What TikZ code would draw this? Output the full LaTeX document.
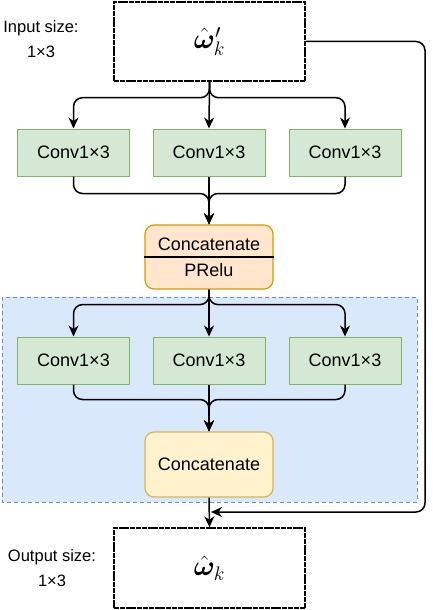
\documentclass[tikz,border=0pt]{standalone}
\usepackage{fix-cm}
\usepackage{amsmath}
\usepackage{bm}
\usepackage{fontspec}
\setmainfont{Liberation Sans}
\usetikzlibrary{arrows.meta}
\definecolor{gfill}{HTML}{D5E8D4}\definecolor{gline}{HTML}{82B366}
\definecolor{ofill}{HTML}{FFE6CC}\definecolor{oline}{HTML}{D79B00}
\definecolor{yfill}{HTML}{FFF2CC}\definecolor{yline}{HTML}{D6B656}
\definecolor{bfill}{HTML}{DAE8FC}\definecolor{bline}{HTML}{6C8EBF}
\tikzset{
  convbox/.style={draw=gline,fill=gfill,line width=1pt,minimum width=112pt,minimum height=47pt,inner sep=0pt,font=\fontsize{18}{20}\selectfont},
  vecbox/.style={draw=black,line width=1.4pt,dash pattern=on 5pt off 0.8pt,fill=white,minimum width=191pt,minimum height=79pt,inner sep=0pt,font=\fontsize{28}{30}\selectfont},
  catbox/.style={rounded corners=9pt,line width=1.2pt,minimum width=128pt,minimum height=64pt,inner sep=0pt,font=\fontsize{18}{20}\selectfont},
  lbl/.style={align=center,font=\fontsize{16.5}{25}\selectfont,inner sep=0pt},
  arr/.style={line width=1.5pt,rounded corners=9pt,-{Stealth[length=11pt,width=10pt,inset=3.5pt]}},
}
\begin{document}
\begin{tikzpicture}[x=1pt,y=-1pt]
\useasboundingbox (0,0) rectangle (432,610);
\fill[white] (0,0) rectangle (432,610);
% blue region
\draw[draw=bline,fill=bfill,line width=1pt,dash pattern=on 4pt off 3pt] (2,297) rectangle (417,502);
% nodes
\node[vecbox] (in) at (209.5,41.5) {$\hat{\bm{\omega}}'_k$};
\node[vecbox,minimum height=80pt] (out) at (209.5,568) {$\hat{\bm{\omega}}_k$};
\node[lbl] (inl) at (41,39) {Input size:\\1×3};
\node[lbl] (outl) at (52,568) {Output size:\\1×3};
\node[convbox] (a1) at (73.5,152.5) {Conv1×3};
\node[convbox] (a2) at (209,152.5) {Conv1×3};
\node[convbox] (a3) at (345,152.5) {Conv1×3};
\node[catbox,draw=oline,fill=ofill] (cp) at (209,257) {};
\draw[line width=1.2pt] (cp.west) -- (cp.east);
\node[font=\fontsize{18}{20}\selectfont,inner sep=0pt] (cpt) at (209,244.5) {Concatenate};
\node[font=\fontsize{18}{20}\selectfont,inner sep=0pt] (cpb) at (209,270.5) {PRelu};
\node[convbox] (b1) at (73.5,360.5) {Conv1×3};
\node[convbox] (b2) at (209,360.5) {Conv1×3};
\node[convbox] (b3) at (345,360.5) {Conv1×3};
\node[catbox,draw=yline,fill=yfill,minimum height=65pt] (ct) at (209,464.5) {Concatenate};
\coordinate (fb) at (211,512);
\coordinate (fc) at (425,512);
% edges
\draw[arr] (in.south) -- ++(0,16) -| (a1.north);
\draw[arr] (in.south) -- (a2.north);
\draw[arr] (in.south) -- ++(0,16) -| (a3.north);
\draw[arr] (a1.south) -- ++(0,17) -| (cp.north);
\draw[arr] (a2.south) -- (cp.north);
\draw[arr] (a3.south) -- ++(0,17) -| (cp.north);
\draw[arr] (cp.south) -- ++(0,15) -| (b1.north);
\draw[arr] (cp.south) -- (b2.north);
\draw[arr] (cp.south) -- ++(0,15) -| (b3.north);
\draw[arr] (b1.south) -- ++(0,15) -| (ct.north);
\draw[arr] (b2.south) -- (ct.north);
\draw[arr] (b3.south) -- ++(0,15) -| (ct.north);
\draw[arr] (ct.south) -- (out.north);
\draw[arr] (in.east) -| (fc) -- (fb);
\end{tikzpicture}
\end{document}
